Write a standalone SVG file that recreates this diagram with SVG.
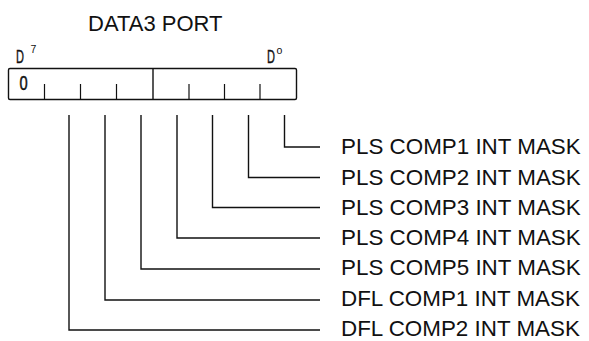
<svg xmlns="http://www.w3.org/2000/svg" width="589" height="341" viewBox="0 0 589 341">
<style>
  .ln { fill: none; stroke: #111; stroke-width: 1.4; }
  .tk { fill: none; stroke: #111; stroke-width: 1.2; }
  .lbl { font-family: "Liberation Sans", Arial, sans-serif; font-size: 22.4px; fill: #111; }
  .bit { font-family: "Liberation Sans", Arial, sans-serif; fill: #111; }
</style>
<rect width="589" height="341" fill="#ffffff"/>
<g id="title">
  <text class="lbl" x="88" y="30.5" style="font-size:22px">DATA3 PORT</text>
</g>
<g id="register">
  <text class="bit" x="16" y="63.5" style="font-size:19px;stroke:#111;stroke-width:0.4" transform="translate(16 63.5) scale(0.58 1) translate(-16 -63.5)">D</text>
  <text class="bit" x="30.5" y="52.5" style="font-size:10.5px">7</text>
  <text class="bit" x="267" y="63.5" style="font-size:19px;stroke:#111;stroke-width:0.4" transform="translate(267 63.5) scale(0.58 1) translate(-267 -63.5)">D</text>
  <text class="bit" x="276.5" y="53.5" style="font-size:10.5px">o</text>
  <rect class="ln" x="8.5" y="68.5" width="288" height="31" rx="1.5"/>
  <line class="ln" x1="153" y1="68.5" x2="153" y2="99.5"/>
  <line class="tk" x1="44.5" y1="84" x2="44.5" y2="99.5"/>
  <line class="tk" x1="80.5" y1="84" x2="80.5" y2="99.5"/>
  <line class="tk" x1="116.5" y1="84" x2="116.5" y2="99.5"/>
  <line class="tk" x1="189" y1="84" x2="189" y2="99.5"/>
  <line class="tk" x1="224.5" y1="84" x2="224.5" y2="99.5"/>
  <line class="tk" x1="260" y1="84" x2="260" y2="99.5"/>
  <text class="bit" x="19.5" y="90" style="font-size:21px;stroke:#111;stroke-width:0.5" transform="translate(19.5 90) scale(0.7 1) translate(-19.5 -90)">0</text>
</g>
<g id="connectors">
  <polyline class="ln" points="284.5,115 284.5,147 320,147"/>
  <polyline class="ln" points="248.5,115 248.5,177.5 320,177.5"/>
  <polyline class="ln" points="212.5,115 212.5,207.5 320,207.5"/>
  <polyline class="ln" points="177,115 177,238 320,238"/>
  <polyline class="ln" points="141,115 141,269 320,269"/>
  <polyline class="ln" points="105,115 105,300 320,300"/>
  <polyline class="ln" points="69,115 69,330 320,330"/>
</g>
<g id="label-pls1"><text class="lbl" x="341" y="154.3">PLS COMP1 INT MASK</text></g>
<g id="label-pls2"><text class="lbl" x="341" y="184.5">PLS COMP2 INT MASK</text></g>
<g id="label-pls3"><text class="lbl" x="341" y="214.7">PLS COMP3 INT MASK</text></g>
<g id="label-pls4"><text class="lbl" x="341" y="245">PLS COMP4 INT MASK</text></g>
<g id="label-pls5"><text class="lbl" x="341" y="275.4">PLS COMP5 INT MASK</text></g>
<g id="label-dfl1"><text class="lbl" x="341" y="305.6">DFL COMP1 INT MASK</text></g>
<g id="label-dfl2"><text class="lbl" x="341" y="336">DFL COMP2 INT MASK</text></g>
</svg>
